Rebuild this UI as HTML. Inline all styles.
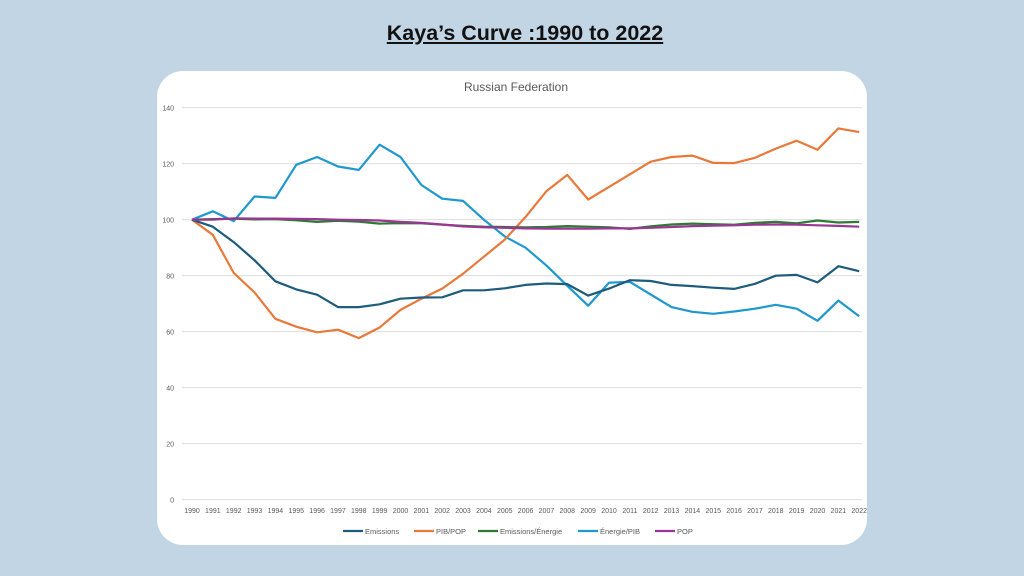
<!DOCTYPE html>
<html><head><meta charset="utf-8"><style>
body{margin:0;width:1024px;height:576px;background:#c2d5e4;overflow:hidden;font-family:"Liberation Sans",sans-serif}
.t{position:absolute;left:13px;width:1024px;top:21px;text-align:center;font-size:21.5px;font-weight:bold;text-decoration:underline;color:#111}
.card{position:absolute;left:157px;top:71px;width:710px;height:474px;background:#fff;border-radius:26px}
svg{position:absolute;left:0;top:0}
</style></head><body>
<div class="t">Kaya’s Curve :1990 to 2022</div>
<div class="card"></div>
<svg id="s" width="1024" height="576" font-family="Liberation Sans, sans-serif"></svg>
<script>
var s=document.getElementById('s'),h='';
function Y(v){return 499.7-v*2.8}
function X(i){return 192+i*20.85}
h+='<text x="516" y="91" font-size="12" fill="#595959" text-anchor="middle">Russian Federation</text>';
for(var v=0;v<=140;v+=20){h+='<line x1="182" x2="862" y1="'+Y(v)+'" y2="'+Y(v)+'" stroke="#d9d9d9" stroke-width="0.8"/>';
h+='<text x="174" y="'+(Y(v)+3)+'" font-size="7" fill="#595959" text-anchor="end">'+v+'</text>';}
for(var i=0;i<33;i++)h+='<text x="'+X(i)+'" y="513" font-size="7" fill="#595959" text-anchor="middle">'+(1990+i)+'</text>';
var D=[
["#1e98cf",[100,103,99.5,108.3,107.8,119.6,122.4,119,117.8,126.8,122.4,112.4,107.5,106.7,100,94,90,83.6,76.4,69.3,77.5,77.8,73.3,68.8,67.1,66.4,67.2,68.2,69.6,68.2,63.9,71.1,65.5]],
["#e8793a",[100,94.6,81,74,64.6,61.8,59.8,60.7,57.7,61.5,67.8,71.8,75.4,80.7,86.8,92.9,101,110.2,116,107.2,111.7,116.2,120.7,122.4,122.9,120.3,120.2,122.1,125.4,128.2,125,132.6,131.3]],
["#1d5c7c",[100,97.5,92,85.5,78,75.1,73.2,68.8,68.8,69.8,71.8,72.2,72.3,74.8,74.8,75.5,76.7,77.2,77,72.9,75.4,78.4,78.1,76.7,76.3,75.7,75.3,77.1,80,80.3,77.6,83.4,81.6]],
["#2d7a33",[100,100.2,100.4,100.1,100.2,99.8,99.2,99.6,99.3,98.6,98.8,98.7,98.2,97.8,97.5,97.4,97.3,97.4,97.7,97.5,97.3,96.7,97.6,98.3,98.6,98.4,98.2,98.9,99.2,98.7,99.7,99,99.2]],
["#9b3596",[100,100,100.5,100.4,100.4,100.3,100.2,100,99.9,99.7,99.2,98.9,98.3,97.6,97.3,97.1,96.9,96.8,96.8,96.8,96.9,96.9,97.1,97.4,97.7,97.9,98,98.2,98.3,98.2,98,97.8,97.5]]];
D.forEach(function(d){var p=d[1].map(function(v,i){return X(i).toFixed(1)+','+Y(v).toFixed(1)}).join(' ');
h+='<polyline points="'+p+'" fill="none" stroke="'+d[0]+'" stroke-width="2.2" stroke-linejoin="round"/>';});
var L=[[343,"#1d5c7c","Emissions"],[414,"#e8793a","PIB/POP"],[478,"#2d7a33","Emissions/Énergie"],[578,"#1e98cf","Énergie/PIB"],[655,"#9b3596","POP"]];
L.forEach(function(l){h+='<line x1="'+l[0]+'" x2="'+(l[0]+20)+'" y1="531" y2="531" stroke="'+l[1]+'" stroke-width="2.2"/><text x="'+(l[0]+22)+'" y="534" font-size="7.5" fill="#595959">'+l[2]+'</text>';});
s.innerHTML=h;
</script>
</body></html>
